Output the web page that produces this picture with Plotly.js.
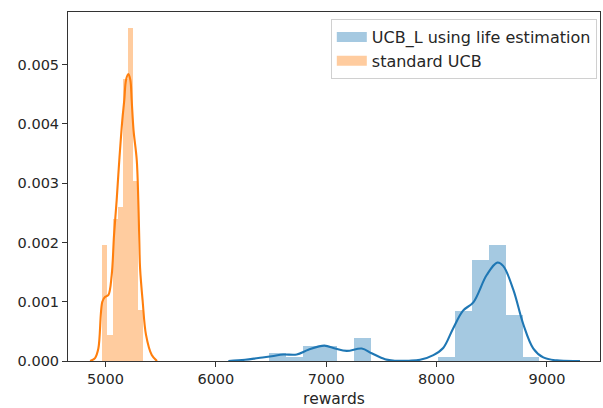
<!DOCTYPE html>
<html>
<head>
<meta charset="utf-8">
<script src="https://cdn.plot.ly/plotly-3.0.1.min.js"></script>
<style>html,body{margin:0;padding:0;background:#fff;}#chart{width:603px;height:408px;}</style>
</head>
<body>
<div id="chart"></div>
<script>
// ---- data ----
const seriesNames = ["UCB_L using life estimation", "standard UCB"];

// UCB_L histogram (density), bin edges
const ucbLBinEdges = [6484, 6637, 6790, 6943, 7096, 7249, 7402, 7555, 7708, 7861, 8014, 8167, 8320, 8473, 8626, 8779, 8932];
const ucbLDensity  = [0.00013, 0.000065, 0.00026, 0.00026, 0, 0.00039, 0, 0, 0, 0, 0.000065, 0.00085, 0.00170, 0.00196, 0.00078, 0.000065];

// UCB_L KDE curve
const ucbLKdeX = [6113, 6264, 6385, 6506, 6611, 6733, 6838, 6983, 7080, 7186, 7322, 7412, 7533, 7623, 7750, 7850, 7971, 8060, 8150, 8240, 8333, 8454, 8550, 8605, 8696, 8786, 8877, 8967, 9089, 9300];
const ucbLKdeY = [0, 0.00002, 0.00005, 0.00008, 0.00011, 0.00011, 0.00019, 0.00026, 0.00021, 0.00017, 0.00021, 0.00013, 0.00003, 0.000005, 0.000005, 0.00002, 0.0001, 0.00022, 0.00055, 0.00085, 0.00099, 0.00145, 0.00166, 0.0016, 0.0012, 0.00062, 0.00021, 0.00006, 0.00001, 0];

// standard UCB histogram (density), bin edges
const stdBinEdges = [4971, 5017, 5064, 5110, 5157, 5203, 5249, 5296, 5342];
const stdDensity  = [0.00196, 0.00044, 0.0024, 0.0026, 0.00475, 0.00561, 0.00303, 0.00086];

// standard UCB KDE curve
const stdKdeX = [4860, 4905, 4935, 4971, 4995, 5025, 5056, 5077, 5101, 5125, 5152, 5170, 5186, 5207, 5225, 5237, 5254, 5283, 5297, 5306, 5313, 5337, 5367, 5419, 5467];
const stdKdeY = [0, 0.00005, 0.00021, 0.001, 0.00108, 0.00111, 0.00145, 0.00212, 0.00271, 0.00339, 0.00406, 0.0044, 0.00474, 0.00484, 0.00474, 0.0044, 0.00389, 0.00339, 0.00271, 0.00204, 0.00157, 0.001, 0.00044, 0.0001, 0];

const xTickVals = [5000, 6000, 7000, 8000, 9000];
const yTickVals = [0, 0.001, 0.002, 0.003, 0.004, 0.005];

// ---- helpers ----
function centers(edges){ const c=[]; for(let i=0;i<edges.length-1;i++) c.push((edges[i]+edges[i+1])/2); return c; }
function widths(edges){ const w=[]; for(let i=0;i<edges.length-1;i++) w.push(edges[i+1]-edges[i]); return w; }

const blue = '#1f77b4', orange = '#ff7f0e';
const blueA = 'rgba(31,119,180,0.4)', orangeA = 'rgba(255,127,14,0.4)';

const traces = [
  {type:'bar', x:centers(ucbLBinEdges), y:ucbLDensity, width:widths(ucbLBinEdges),
   marker:{color:blueA, line:{width:0}}, showlegend:false, hoverinfo:'skip'},
  {type:'scatter', mode:'lines', x:ucbLKdeX, y:ucbLKdeY, line:{color:blue, width:2.1, shape:'spline', smoothing:1},
   showlegend:false, hoverinfo:'skip'},
  {type:'bar', x:centers(stdBinEdges), y:stdDensity, width:widths(stdBinEdges),
   marker:{color:orangeA, line:{width:0}}, showlegend:false, hoverinfo:'skip'},
  {type:'scatter', mode:'lines', x:stdKdeX, y:stdKdeY, line:{color:orange, width:2.1, shape:'spline', smoothing:1},
   showlegend:false, hoverinfo:'skip'},
  // legend entries (patch-like swatches)
  {type:'scatter', mode:'lines', x:[null], y:[null], name:seriesNames[0], line:{color:blueA, width:10}, showlegend:true, legendgroup:'a'},
  {type:'scatter', mode:'lines', x:[null], y:[null], name:seriesNames[1], line:{color:orangeA, width:10}, showlegend:true, legendgroup:'b'}
];

const tickFont = {family:'DejaVu Sans, sans-serif', size:14.5, color:'#262626'};
const labelFont = {family:'DejaVu Sans, sans-serif', size:15.5, color:'#262626'};
const legendFont = {family:'DejaVu Sans, sans-serif', size:16, color:'#262626'};

const layout = {
  width:603, height:408,
  margin:{l:68, r:3, t:12, b:47, pad:0},
  paper_bgcolor:'#fff', plot_bgcolor:'#fff',
  barmode:'overlay', bargap:0,
  font:tickFont,
  xaxis:{range:[4660, 9481], tickvals:xTickVals, ticktext:xTickVals.map(String), tickfont:tickFont,
    showgrid:false, zeroline:false, showline:true, linecolor:'#333', linewidth:1, mirror:true,
    ticks:'outside', ticklen:5, tickwidth:1, tickcolor:'#333',
    title:{text:'rewards', font:labelFont, standoff:9}},
  yaxis:{range:[0, 0.005887], tickvals:yTickVals, ticktext:yTickVals.map(v=>v.toFixed(3)), tickfont:tickFont,
    showgrid:false, zeroline:false, showline:true, linecolor:'#333', linewidth:1, mirror:true,
    ticks:'outside', ticklen:5, tickwidth:1, tickcolor:'#333'},
  legend:{x:0.994, y:0.98, xanchor:'right', yanchor:'top', bgcolor:'rgba(255,255,255,0.8)',
    bordercolor:'#d0d0d0', borderwidth:1, font:legendFont, traceorder:'grouped', tracegroupgap:0, itemwidth:30}
};

Plotly.newPlot('chart', traces, layout, {staticPlot:true, displayModeBar:false});
</script>
</body>
</html>
